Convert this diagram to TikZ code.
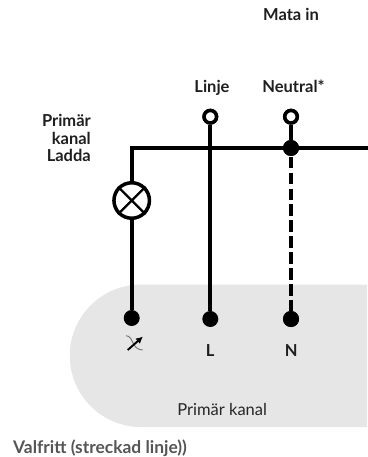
\documentclass[tikz,border=0pt]{standalone}
\usepackage{fontspec}
\usetikzlibrary{arrows.meta}
\setmainfont{Lato}
\definecolor{panel}{HTML}{E6E6E6}
\definecolor{wirec}{HTML}{000000}
\definecolor{notec}{HTML}{555555}
\tikzset{
  wire/.style={line width=4pt,draw=wirec},
  dot/.style={circle,fill=black,minimum size=16pt,inner sep=0pt},
  hollow/.style={circle,draw=black,fill=white,line width=3.5pt,minimum size=12.5pt,inner sep=0pt},
  lamp/.style={circle,draw=black,fill=white,line width=3.5pt,minimum size=35.5pt,inner sep=0pt},
  lbl/.style={font=\fontsize{16.5}{17.5}\selectfont\bfseries,text=black!88,inner sep=0pt},
}
\begin{document}
\begin{tikzpicture}[x=1pt,y=-1pt]
\useasboundingbox (0,0) rectangle (367,457);
\fill[panel] (367,284.5) -- (141,284.5) arc[start angle=90,end angle=270,x radius=71.25pt,y radius=71.25pt] -- (367,427) -- cycle;
\node[lbl,anchor=base] (mata) at (291,21) {Mata in};
\node[lbl,anchor=base] (linje) at (212,92.5) {Linje};
\node[lbl,anchor=base] (neutral) at (293.5,92.5) {Neutral*};
\node[lbl,align=right,anchor=east] (prim) at (91,138) {Primär\\kanal\\Ladda};
\node[hollow] (ht1) at (210.3,116.7) {};
\node[hollow] (ht2) at (291,116.7) {};
\node[dot] (tl) at (131.7,318) {};
\node[dot] (tc) at (210.3,319) {};
\node[dot] (tr) at (291,319) {};
\node[dot] (j) at (291,148) {};
\node[lamp] (lmp) at (131.7,200.5) {};
\coordinate (corner) at (131.7,147.8);
\coordinate (east) at (367,147.8);
\coordinate (dashstart) at (291,156.7);
\draw[wire,line cap=rect] (corner) -- (east);
\draw[wire] (lmp.north) -- (corner);
\draw[wire] (lmp.south) -- (tl);
\draw[wire] (ht1) -- (tc);
\draw[wire] (ht2) -- (j);
\draw[wire,dash pattern=on 11.7pt off 4.2pt] (dashstart) -- (tr);
\draw[line width=2.4pt] (lmp.45) -- (lmp.225) (lmp.135) -- (lmp.315);
\node[dot] at (j) {};
\node[dot] at (tr) {};
\node[hollow] at (ht1) {};
\node[hollow] at (ht2) {};
% switched-line symbol
\draw[black!55,line width=0.9pt] (126,335.7) .. controls (134,336) and (131,349.5) .. (142.7,350);
\draw[line width=1.9pt,-{Latex[length=7pt,width=7pt]}] (127.7,350) -- (143,336.5);
\node[lbl,anchor=base] (L) at (210.2,356) {L};
\node[lbl,anchor=base] (N) at (291.3,356) {N};
\node[font=\fontsize{16.5}{18}\selectfont,text=black!85,inner sep=0pt,anchor=base] (pk) at (222.2,415) {Primär kanal};
\node[font=\fontsize{17.4}{18}\selectfont\bfseries,text=notec,inner sep=0pt,anchor=base west] (v) at (13,453) {Valfritt (streckad linje))};
\end{tikzpicture}
\end{document}
